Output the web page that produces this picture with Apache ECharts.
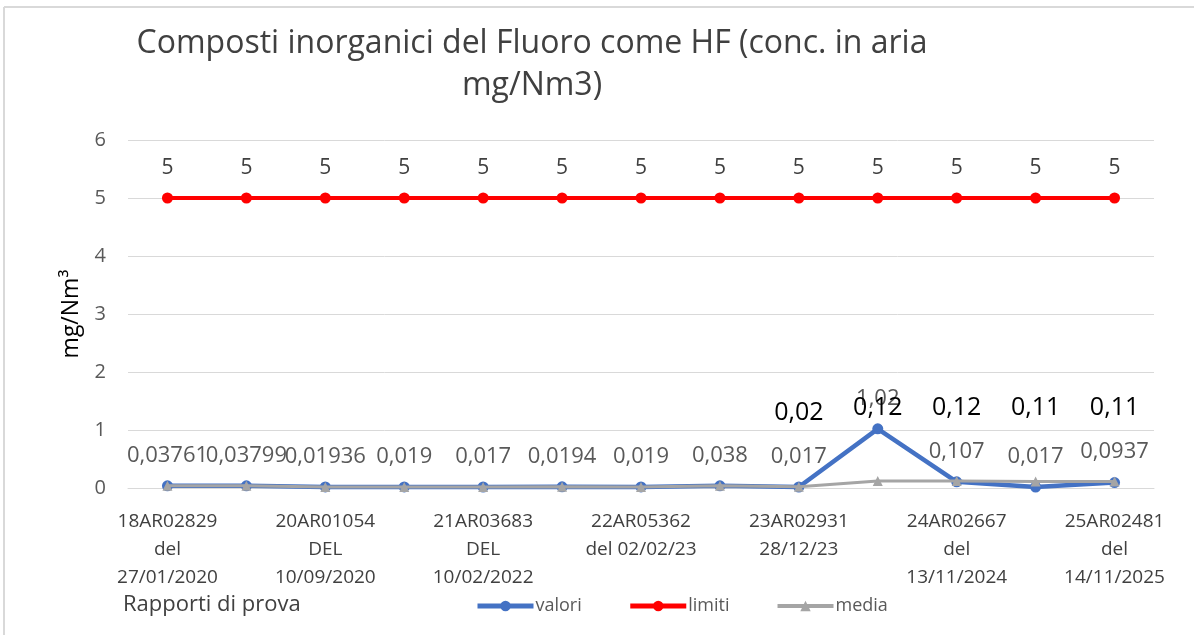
<!DOCTYPE html>
<html><head><meta charset="utf-8">
<script src="https://cdn.jsdelivr.net/npm/echarts@6/dist/echarts.min.js"></script>
<style>html,body{margin:0;padding:0;background:#fff}#c{width:1194px;height:635px}</style>
</head><body><div id="c"></div>
<script>
const categories = [
  "18AR02829\ndel\n27/01/2020", "",
  "20AR01054\nDEL\n10/09/2020", "",
  "21AR03683\nDEL\n10/02/2022", "",
  "22AR05362\ndel 02/02/23", "",
  "23AR02931\n28/12/23", "",
  "24AR02667\ndel\n13/11/2024", "",
  "25AR02481\ndel\n14/11/2025"
];
const valori = [0.03761, 0.03799, 0.01936, 0.019, 0.017, 0.0194, 0.019, 0.038, 0.017, 1.02, 0.107, 0.017, 0.0937];
const limiti = [5, 5, 5, 5, 5, 5, 5, 5, 5, 5, 5, 5, 5];
const media = [0.03761, 0.03799, 0.01936, 0.019, 0.017, 0.0194, 0.019, 0.038, 0.02, 0.12, 0.12, 0.11, 0.11];
const mediaLabelFrom = 8;
const yTicks = [0, 1, 2, 3, 4, 5, 6];

const FONT = "'Open Sans', sans-serif";
const fmt = v => String(v).replace('.', ',');

const chart = echarts.init(document.getElementById('c'), null, {renderer: 'canvas'});
chart.setOption({
  animation: false,
  backgroundColor: '#fff',
  textStyle: {fontFamily: FONT},
  title: [{
    text: 'Composti inorganici del Fluoro come HF (conc. in aria\nmg/Nm3)',
    left: 527, top: 18, textAlign: 'center',
    textStyle: {fontFamily: FONT, fontSize: 32, fontWeight: 'normal', color: '#404040', lineHeight: 42}
  }, {
    text: 'Rapporti di prova',
    left: 118, top: 589,
    textStyle: {fontFamily: FONT, fontSize: 22, fontWeight: 'normal', color: '#404040'}
  }],
  graphic: [
    {type: 'line', shape: {x1: 4, y1: 7, x2: 1194, y2: 7}, style: {stroke: '#D9D9D9', lineWidth: 2}},
    {type: 'line', shape: {x1: 4, y1: 7, x2: 4, y2: 635}, style: {stroke: '#D9D9D9', lineWidth: 2}}
  ],
  legend: {
    left: 470, top: 592, itemGap: 46, itemWidth: 56, itemHeight: 13,
    textStyle: {fontFamily: FONT, fontSize: 18, color: '#595959', padding: [0, 0, 0, -3]},
    data: [
      {name: 'valori', lineStyle: {width: 5}},
      {name: 'limiti', lineStyle: {width: 5}},
      {name: 'media', lineStyle: {width: 4}}
    ]
  },
  grid: {left: 128, right: 40, top: 140, bottom: 147, containLabel: false},
  xAxis: {
    type: 'category', data: categories, boundaryGap: true,
    axisLine: {show: true, lineStyle: {color: '#D9D9D9', width: 1}},
    axisTick: {show: false},
    axisLabel: {interval: 0, margin: 20, fontFamily: FONT, fontSize: 19, color: '#404040', lineHeight: 28}
  },
  yAxis: {
    type: 'value', min: 0, max: 6, interval: 1,
    name: 'mg/Nm³', nameLocation: 'middle', nameGap: 45, nameRotate: 90,
    nameTextStyle: {fontFamily: FONT, fontSize: 23, color: '#000'},
    axisLine: {show: false}, axisTick: {show: false},
    axisLabel: {margin: 22, fontFamily: FONT, fontSize: 20, color: '#595959',
      formatter: v => yTicks.includes(v) ? String(v) : ''},
    splitLine: {lineStyle: {color: '#D9D9D9', width: 1}}
  },
  series: [{
    name: 'valori', type: 'line', data: valori, z: 3,
    itemStyle: {color: '#4472C4'}, lineStyle: {color: '#4472C4', width: 4.5},
    symbol: 'circle', symbolSize: 11,
    label: {show: true, position: 'top', distance: 14, fontFamily: FONT, fontSize: 22, color: '#595959',
      formatter: p => fmt(p.value)}
  }, {
    name: 'limiti', type: 'line', data: limiti, z: 4,
    itemStyle: {color: '#FF0000'}, lineStyle: {color: '#FF0000', width: 4},
    symbol: 'circle', symbolSize: 11,
    label: {show: true, position: 'top', distance: 14, fontFamily: FONT, fontSize: 21, color: '#404040',
      formatter: p => fmt(p.value)}
  }, {
    name: 'media', type: 'line', data: media, z: 5,
    itemStyle: {color: '#A5A5A5'}, lineStyle: {color: '#A5A5A5', width: 3},
    symbol: 'triangle', symbolSize: 10,
    label: {show: true, position: 'top', distance: 56, fontFamily: FONT, fontSize: 25, color: '#000',
      formatter: p => p.dataIndex >= mediaLabelFrom ? fmt(p.value) : ''}
  }]
});
</script></body></html>
